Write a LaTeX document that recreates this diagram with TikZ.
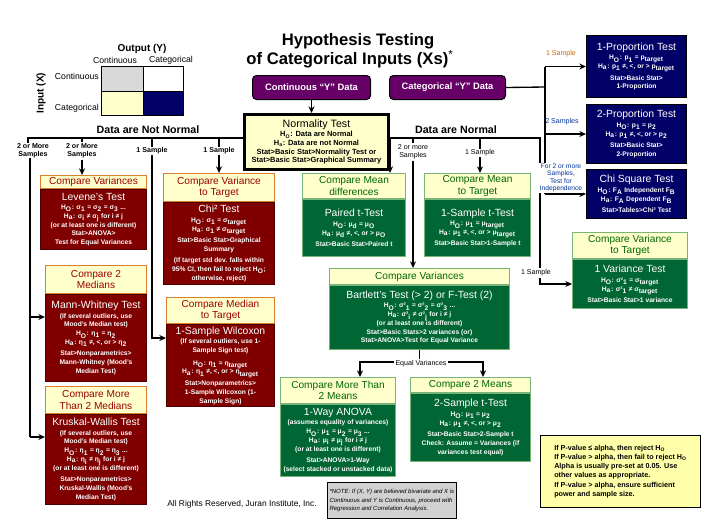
\documentclass[tikz,border=0pt]{standalone}
\usepackage{fontspec}
\setmainfont{Liberation Sans}
\usetikzlibrary{arrows.meta,positioning}

\definecolor{boxred}{RGB}{128,0,0}
\definecolor{headred}{RGB}{153,0,0}
\definecolor{headorange}{RGB}{214,128,48}
\definecolor{paleyel}{RGB}{255,255,204}
\definecolor{boxgreen}{RGB}{0,102,51}
\definecolor{headgreen}{RGB}{0,102,0}
\definecolor{linegreen}{RGB}{120,180,120}
\definecolor{boxnavy}{RGB}{0,0,102}
\definecolor{boxpurple}{RGB}{102,0,102}
\definecolor{noteyel}{RGB}{255,255,170}
\definecolor{legendgrey}{RGB}{217,217,217}
\definecolor{notegrey}{RGB}{210,210,210}
\definecolor{lblorange}{RGB}{204,102,0}
\definecolor{lblblue}{RGB}{0,51,153}

\newcommand\dn[1]{\textsubscript{#1}}
\newcommand\ttlfont{\fontsize{12.5}{15}\selectfont\bfseries}
\newcommand\hdfont{\fontsize{7.6}{8.6}\selectfont}
\newcommand\tstfont{\fontsize{7.8}{9.2}\selectfont\mdseries}
\newcommand\smfont{\fontsize{5}{6.6}\selectfont\bfseries}
\newcommand\lblfont{\fontsize{5.3}{6.3}\selectfont}
\newcommand\legfont{\fontsize{6.5}{8}\selectfont}
\newcommand\tst[1]{{\tstfont #1}\\[0.5pt]}

\tikzset{every picture/.style={line width=0.75pt}}
\tikzset{
  conn/.style={line width=1pt},
  arr/.style={conn, -{Stealth[length=5pt,width=4.5pt]}},
  bw/.style={minimum width=#1*0.75pt},
  bh/.style={minimum height=#1*0.75pt},
  redhead/.style={draw=headorange, fill=paleyel, text=headred, font=\hdfont, align=center, inner sep=1pt, anchor=north west},
  redbody/.style={draw=boxred!60!black, fill=boxred, text=white, font=\smfont, align=center, inner sep=1.5pt, below=0pt of #1},
  greenhead/.style={redhead, draw=linegreen, text=headgreen},
  greenbody/.style={redbody=#1, draw=linegreen, fill=boxgreen},
  navybox/.style={draw=black, fill=boxnavy, text=white, font=\smfont, align=center, inner sep=1.5pt, anchor=north west},
  ydata/.style={draw=black, fill=boxpurple, text=white, rounded corners=3pt, font=\fontsize{7}{8}\selectfont\bfseries, anchor=north west, inner sep=1pt},
  lbl/.style={font=\lblfont, align=center, inner sep=0.5pt},
}

\begin{document}
\begin{tikzpicture}[x=0.75pt,y=0.75pt,yscale=-1,xscale=1]
\useasboundingbox (0,0) rectangle (708,526);

% title
\node[anchor=base, font=\ttlfont] (title1) at (358,45) {Hypothesis Testing};
\node[anchor=base, font=\ttlfont] (title2) at (350,64) {of Categorical Inputs (Xs)\textsuperscript{\mdseries *}};

% legend
\node[font=\fontsize{7.5}{9}\selectfont\bfseries] (outy) at (142,49) {Output (Y)};
\node[font=\legfont] (outcont) at (115,60) {Continuous};
\node[font=\legfont] (outcat) at (171,60) {Categorical};
\node[font=\legfont, anchor=west] (incont) at (50,76) {Continuous};
\node[font=\legfont, anchor=west] (incat) at (50,108) {Categorical};
\node[font=\fontsize{7.5}{9}\selectfont\bfseries, rotate=90] (inx) at (41,93) {Input (X)};
\draw[fill=legendgrey] (101,66) rectangle (143,91);
\draw[fill=white] (143,66) rectangle (183,91);
\draw[fill=paleyel] (101,91) rectangle (143,115);
\draw[fill=boxnavy] (143,91) rectangle (183,115);

% data type boxes
\node[ydata, bw=118, bh=24] (cont) at (252,75) {Continuous “Y” Data};
\node[ydata, bw=116, bh=24] (cat) at (389,75) {Categorical “Y” Data};

\node[draw=black, line width=2.2pt, fill=paleyel, anchor=north west, bw=144, bh=55, align=center, inner sep=1pt,
  font=\fontsize{5.6}{6.5}\selectfont\bfseries] (norm) at (243,113)
  {{\fontsize{8}{9.5}\selectfont\mdseries Normality Test}\\[0.5pt]
   H\dn{O}: Data are Normal\\
   H\dn{a}: Data are not Normal\\
   Stat>Basic Stat>Normality Test or\\
   Stat>Basic Stat>Graphical Summary};

\node[font=\fontsize{8}{9}\selectfont\bfseries] (nnlbl) at (148,130) {Data are Not Normal};
\node[font=\fontsize{8}{9}\selectfont\bfseries] (nlbl) at (456,130) {Data are Normal};

% not normal
\node[redhead, bw=106, bh=13] (levh) at (40,175) {Compare Variances};
\node[redbody=levh, bw=106, bh=60] (lev) {\tst{Levene's Test}
  H\dn{O}: σ\dn{1} = σ\dn{2} = σ\dn{3} ...\\
  H\dn{a}: σ\dn{i} ≠ σ\dn{j} for i ≠ j\\
  (or at least one is different)\\
  Stat>ANOVA>\\
  Test for Equal Variances};

\node[redhead, bw=101, bh=28] (mwh) at (45,265) {Compare 2\\Medians};
\node[redbody=mwh, bw=101, bh=87] (mw) {\tst{Mann-Whitney Test}
  (If several outliers, use\\
  Mood's Median test)\\
  H\dn{O}: η\dn{1} = η\dn{2}\\
  H\dn{a}: η\dn{1} ≠, <, or > η\dn{2}\\[2pt]
  Stat>Nonparametrics>\\
  Mann-Whitney (Mood's\\
  Median Test)};

\node[redhead, bw=101, bh=27] (kwh) at (45,386) {Compare More\\Than 2 Medians};
\node[redbody=kwh, bw=101, bh=90] (kw) {\tst{Kruskal-Wallis Test}
  (If several outliers, use\\
  Mood's Median test)\\
  H\dn{O}: η\dn{1} = η\dn{2} = η\dn{3} ...\\
  H\dn{a}: η\dn{i} ≠ η\dn{j} for i ≠ j\\
  (or at least one is different)\\[2pt]
  Stat>Nonparametrics>\\
  Kruskal-Wallis (Mood's\\
  Median Test)};

\node[redhead, bw=111, bh=28] (chih) at (163,173) {Compare Variance\\to Target};
\node[redbody=chih, bw=111, bh=82] (chi) {\tst{Chi² Test}
  H\dn{O}: σ\dn{1} = σ\dn{target}\\
  H\dn{a}: σ\dn{1} ≠ σ\dn{target}\\[2pt]
  Stat>Basic Stat>Graphical\\
  Summary\\[2pt]
  (If target std dev. falls within\\
  95\% CI, then fail to reject H\dn{O};\\
  otherwise, reject)};

\node[redhead, bw=108, bh=26] (wilh) at (166,297) {Compare Median\\to Target};
\node[redbody=wilh, bw=108, bh=82] (wil) {\tst{1-Sample Wilcoxon}
  (If several outliers, use 1-\\
  Sample Sign test)\\[3pt]
  H\dn{O}: η\dn{1} = η\dn{target}\\
  H\dn{a}: η\dn{1} ≠, <, or > η\dn{target}\\[2pt]
  Stat>Nonparametrics>\\
  1-Sample Wilcoxon (1-\\
  Sample Sign)};

% normal
\node[greenhead, bw=103, bh=25] (pairh) at (302,173) {Compare Mean\\differences};
\node[greenbody=pairh, bw=103, bh=57] (pair) {\tst{Paired t-Test}
  H\dn{O}: μ\dn{d} = μ\dn{O}\\
  H\dn{a}: μ\dn{d} ≠, <, or > μ\dn{O}\\[2pt]
  Stat>Basic Stat>Paired t};

\node[greenhead, bw=106, bh=25] (oneth) at (424,173) {Compare Mean\\to Target};
\node[greenbody=oneth, bw=106, bh=57] (onet) {\tst{1-Sample t-Test}
  H\dn{O}: μ\dn{1} = μ\dn{target}\\
  H\dn{a}: μ\dn{1} ≠, <, or > μ\dn{target}\\[2pt]
  Stat>Basic Stat>1-Sample t};

\node[greenhead, bw=180, bh=16] (barth) at (329,268) {Compare Variances};
\node[greenbody=barth, bw=180, bh=64] (bart) {\tst{Bartlett's Test (> 2) or F-Test (2)}
  H\dn{O}: σ²\dn{1} = σ²\dn{2} = σ²\dn{3} ...\\
  H\dn{a}: σ²\dn{i} ≠ σ²\dn{j} for i ≠ j\\
  (or at least one is different)\\
  Stat>Basic Stats>2 variances (or)\\
  Stat>ANOVA>Test for Equal Variance};

\node[greenhead, bw=115, bh=26] (onevh) at (572,232) {Compare Variance\\to Target};
\node[greenbody=onevh, bw=115, bh=49] (onev) {\tst{1 Variance Test}
  H\dn{O}: σ²\dn{1} = σ\dn{target}\\
  H\dn{a}: σ²\dn{1} ≠ σ\dn{target}\\[2pt]
  Stat>Basic Stat>1 variance};

\node[greenhead, bw=115, bh=26] (anovh) at (280,377) {Compare More Than\\2 Means};
\node[greenbody=anovh, bw=115, bh=72] (anov) {\tst{1-Way ANOVA}
  (assumes equality of variances)\\
  H\dn{O}: μ\dn{1} = μ\dn{2} = μ\dn{3} ...\\
  H\dn{a}: μ\dn{i} ≠ μ\dn{j} for i ≠ j\\
  (or at least one is different)\\[2pt]
  Stat>ANOVA>1-Way\\
  (select stacked or unstacked data)};

\node[greenhead, bw=120, bh=15] (twoth) at (410,377) {Compare 2 Means};
\node[greenbody=twoth, bw=120, bh=68] (twot) {\tst{2-Sample t-Test}
  H\dn{O}: μ\dn{1} = μ\dn{2}\\
  H\dn{a}: μ\dn{1} ≠, <, or > μ\dn{2}\\[2pt]
  Stat>Basic Stat>2-Sample t\\
  Check: Assume = Variances (if\\
  variances test equal)};

% categorical
\node[navybox, bw=100, bh=62] (prop1) at (586,35) {\tst{1-Proportion Test}
  H\dn{O}: p\dn{1} = p\dn{target}\\
  H\dn{a}: p\dn{1} ≠, <, or > p\dn{target}\\[2pt]
  Stat>Basic Stat>\\
  1-Proportion};
\node[navybox, bw=100, bh=59] (prop2) at (586,104) {\tst{2-Proportion Test}
  H\dn{O}: p\dn{1} = p\dn{2}\\
  H\dn{a}: p\dn{1} ≠, <, or > p\dn{2}\\[2pt]
  Stat>Basic Stat>\\
  2-Proportion};
\node[navybox, bw=100, bh=49] (chisq) at (586,169) {\tst{Chi Square Test}
  H\dn{O}: F\dn{A} Independent F\dn{B}\\
  H\dn{a}: F\dn{A} Dependent F\dn{B}\\[2pt]
  Stat>Tables>Chi² Test};

% branch labels
\node[lbl, font=\lblfont\bfseries] (lblmw) at (33,151) {2 or More\\Samples};
\node[lbl, font=\lblfont\bfseries] (lbllev) at (82,151) {2 or More\\Samples};
\node[lbl, font=\lblfont\bfseries] (lblwil) at (152,151) {1 Sample};
\node[lbl, font=\lblfont\bfseries] (lblchi) at (219,151) {1 Sample};
\node[lbl] (lbl2n) at (413,152) {2 or more\\Samples};
\node[lbl] (lbl1n) at (480,153) {1 Sample};
\node[lbl, text=lblorange] (lbl1p) at (561,54) {1 Sample};
\node[lbl, text=lblblue] (lbl2p) at (562,122) {2 Samples};

% connectors
\draw[arr] (cont.south) -- (cont.south |- norm.north);

\coordinate (nnend) at (28,138);
\draw[conn] (norm.west |- nnend) -- (nnend) -- ++(0,5);
\draw[conn] (lbllev.north |- nnend) -- (lbllev.north);
\draw[conn] (lblwil.north |- nnend) -- (lblwil.north);
\draw[conn] (lblchi.north |- nnend) -- (lblchi.north);
\draw[arr] (lbllev.south) -- (lbllev.south |- levh.north);
\draw[arr] (lblchi.south) -- (lblchi.south |- chih.north);
\coordinate (mwtop) at (30,158);
\coordinate (mwin) at (30,317);
\coordinate (kwin) at (30,437);
\draw[conn] (mwtop) -- (kwin);
\draw[arr] (mwin) -- (mwin -| mw.west);
\draw[arr] (kwin) -- (kwin -| kw.west);
\coordinate (wilin) at (152,338);
\draw[arr] (lblwil.south) -- (wilin) -- (wilin -| wil.west);

\coordinate (nend) at (540,138);
\coordinate (pairin) at (390,138);
\draw[arr] (norm.east |- nend) -- (nend) |- (onev.west);
\draw[arr] (pairin) -- (pairin |- pairh.north);
\draw[conn] (lbl2n.north |- nend) -- (lbl2n.north);
\draw[arr] (lbl2n.south) -- (lbl2n.south |- barth.north);
\draw[conn] (lbl1n.north |- nend) -- (lbl1n.north);
\draw[arr] (lbl1n.south) -- (lbl1n.south |- oneth.north);

\coordinate (eqleft) at (360,362);
\coordinate (eqright) at (483,362);
\draw[conn] (bart.south) -- (bart.south |- eqleft);
\draw[arr] (bart.south |- eqleft) -- (eqleft) -- (eqleft |- anovh.north);
\draw[arr] (bart.south |- eqleft) -- (eqright) -- (eqright |- twoth.north);

\coordinate (catend) at (545,87);
\draw[conn] (cat.east) -- (catend);
\draw[conn] (catend |- prop1.west) -- (catend |- chisq.west);
\draw[arr] (catend |- prop1.west) -- (prop1.west);
\draw[arr] (catend |- prop2.west) -- (prop2.west);
\draw[arr] (catend |- chisq.west) -- (chisq.west);

% labels over lines
\node[lbl, fill=white, inner sep=1pt] (eqlbl) at (421,364) {Equal Variances};
\node[lbl, fill=white, inner sep=1pt] (lblv) at (536,273) {1 Sample};
\node[lbl, fill=white, text=lblblue, font=\fontsize{5}{5.6}\selectfont] (lblind) at (561,178) {For 2 or more\\Samples,\\Test for\\Independence};

% notes
\node[draw=black, fill=noteyel, anchor=north west, bw=160, bh=72, align=left, inner sep=3pt,
  font=\fontsize{5.4}{6.9}\selectfont\bfseries] (pnote) at (540,435)
  {If P-value ≤ alpha, then reject H\dn{O}\\
   If P-value > alpha, then fail to reject H\dn{O}\\
   Alpha is usually pre-set at 0.05. Use\\
   other values as appropriate.\\
   If P-value > alpha, ensure sufficient\\
   power and sample size.};
\node[draw=black, fill=notegrey, anchor=north west, bw=128, bh=36, align=left, inner sep=1.5pt,
  font=\fontsize{4.5}{6.7}\selectfont\itshape] (fnote) at (327,482)
  {*NOTE: If (X, Y) are believed bivariate and X is\\
   Continuous and Y is Continuous, proceed with\\
   Regression and Correlation Analysis.};
\node[font=\fontsize{6.3}{7.5}\selectfont] (rights) at (242,504) {All Rights Reserved, Juran Institute, Inc.};
\end{tikzpicture}
\end{document}
